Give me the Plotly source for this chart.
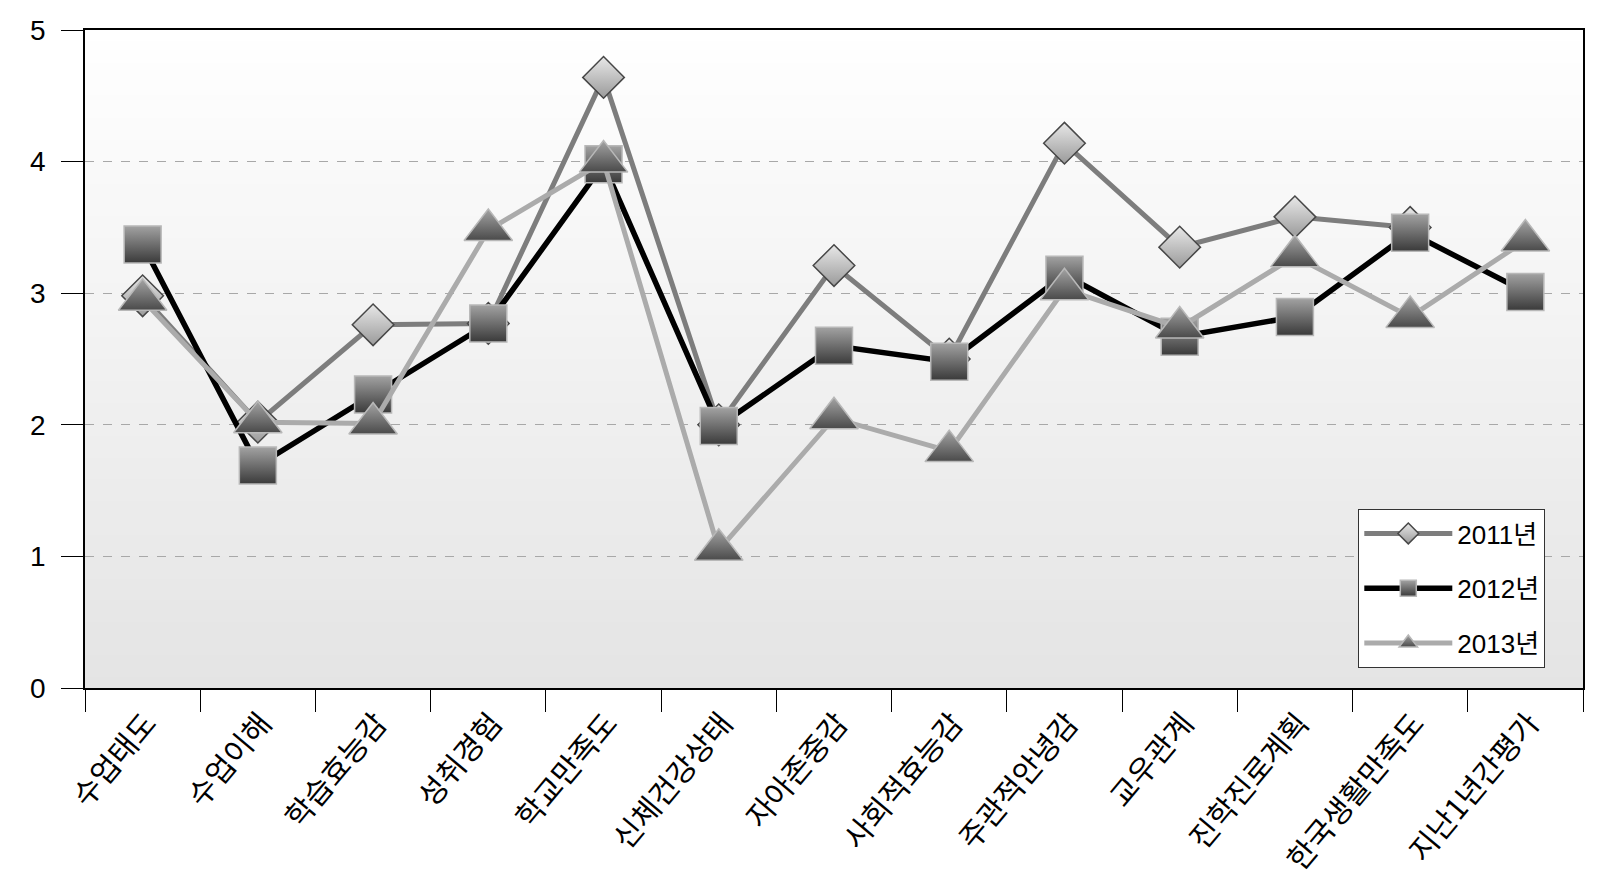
import plotly.graph_objects as go

categories = ["수업태도", "수업이해", "학습효능감", "성취경험", "학교만족도", "신체건강상태",
              "자아존중감", "사회적효능감", "주관적안녕감", "교우관계", "진학진로계획",
              "한국생활만족도", "지난1년간평가"]
y2011 = [2.98, 2.02, 2.76, 2.77, 4.64, 2.00, 3.21, 2.50, 4.14, 3.35, 3.58, 3.50, None]
y2012 = [3.37, 1.69, 2.23, 2.77, 3.98, 1.99, 2.60, 2.48, 3.14, 2.67, 2.82, 3.46, 3.01]
y2013 = [2.95, 2.02, 2.01, 3.48, 4.00, 1.05, 2.05, 1.80, 3.03, 2.74, 3.28, 2.82, 3.40]
series_names = ["2011년", "2012년", "2013년"]
y_ticks = [0, 1, 2, 3, 4, 5]

fig = go.Figure()

fig.add_trace(go.Scatter(
    x=categories, y=y2011, name=series_names[0], mode="lines+markers",
    legendgroup="a",
    line=dict(color="#7d7d7d", width=5),
    marker=dict(symbol="diamond", size=32, color="#e8e8e8",
                gradient=dict(type="vertical", color="#9a9a9a"),
                line=dict(color="#474747", width=1.5)),
))
fig.add_trace(go.Scatter(
    x=categories, y=y2012, name=series_names[1], mode="lines+markers",
    legendgroup="b",
    line=dict(color="#000000", width=5.5),
    marker=dict(symbol="square", size=37, color="#a2a2a2",
                gradient=dict(type="vertical", color="#3a3a3a"),
                line=dict(color="#b8b8b8", width=1.5)),
))
fig.add_trace(go.Scatter(
    x=categories, y=y2013, name=series_names[2], mode="lines+markers",
    legendgroup="c",
    line=dict(color="#ababab", width=5),
    marker=dict(symbol="triangle-up", size=42, color="#a4a4a4",
                gradient=dict(type="vertical", color="#4a4a4a"),
                line=dict(color="#b8b8b8", width=1.5)),
))

# vertical background gradient inside the plot area
n = 60
shapes = []
for i in range(n):
    t = (i + 0.5) / n
    c = int(round(228 + (255 - 228) * t))
    shapes.append(dict(type="rect", xref="x domain", yref="y domain",
                       x0=0, x1=1, y0=i / n, y1=(i + 1) / n + 0.002,
                       fillcolor=f"rgb({c},{c},{c})", line=dict(width=0),
                       layer="below"))

# page body has an 8px margin: figure sized so it fills the 1606x886 window exactly
fig.update_layout(
    width=1590, height=870,
    margin=dict(l=77, r=15, t=22, b=190),
    paper_bgcolor="white",
    plot_bgcolor="white",
    shapes=shapes,
    showlegend=True,
    legend=dict(x=0.85, y=0.272, xanchor="left", yanchor="top",
                bgcolor="white", bordercolor="#333333", borderwidth=1,
                font=dict(family="Liberation Sans, Noto Sans CJK KR", size=26, color="black"),
                itemwidth=88, tracegroupgap=18),
    xaxis=dict(type="category", range=[-0.5, len(categories) - 0.5],
               tickson="boundaries", ticks="outside", ticklen=22,
               tickcolor="black", tickwidth=1.2, showline=True, linecolor="black",
               linewidth=1.5, mirror=True, showgrid=False, tickangle=-50,
               automargin=False, ticklabelshift=4, ticklabelstandoff=4,
               tickfont=dict(family="Noto Sans CJK KR", size=30, color="black")),
    yaxis=dict(range=[0, 5], tickvals=y_ticks, ticks="outside", ticklen=22,
               tickcolor="black", tickwidth=1.2, showline=True, linecolor="black",
               linewidth=1.5, mirror=True, showgrid=True, gridcolor="#a8a8a8",
               gridwidth=1, griddash="dash", zeroline=False, ticklabelstandoff=10,
               automargin=False,
               tickfont=dict(family="Liberation Sans", size=28, color="black")),
)

fig.write_html("out.html")
